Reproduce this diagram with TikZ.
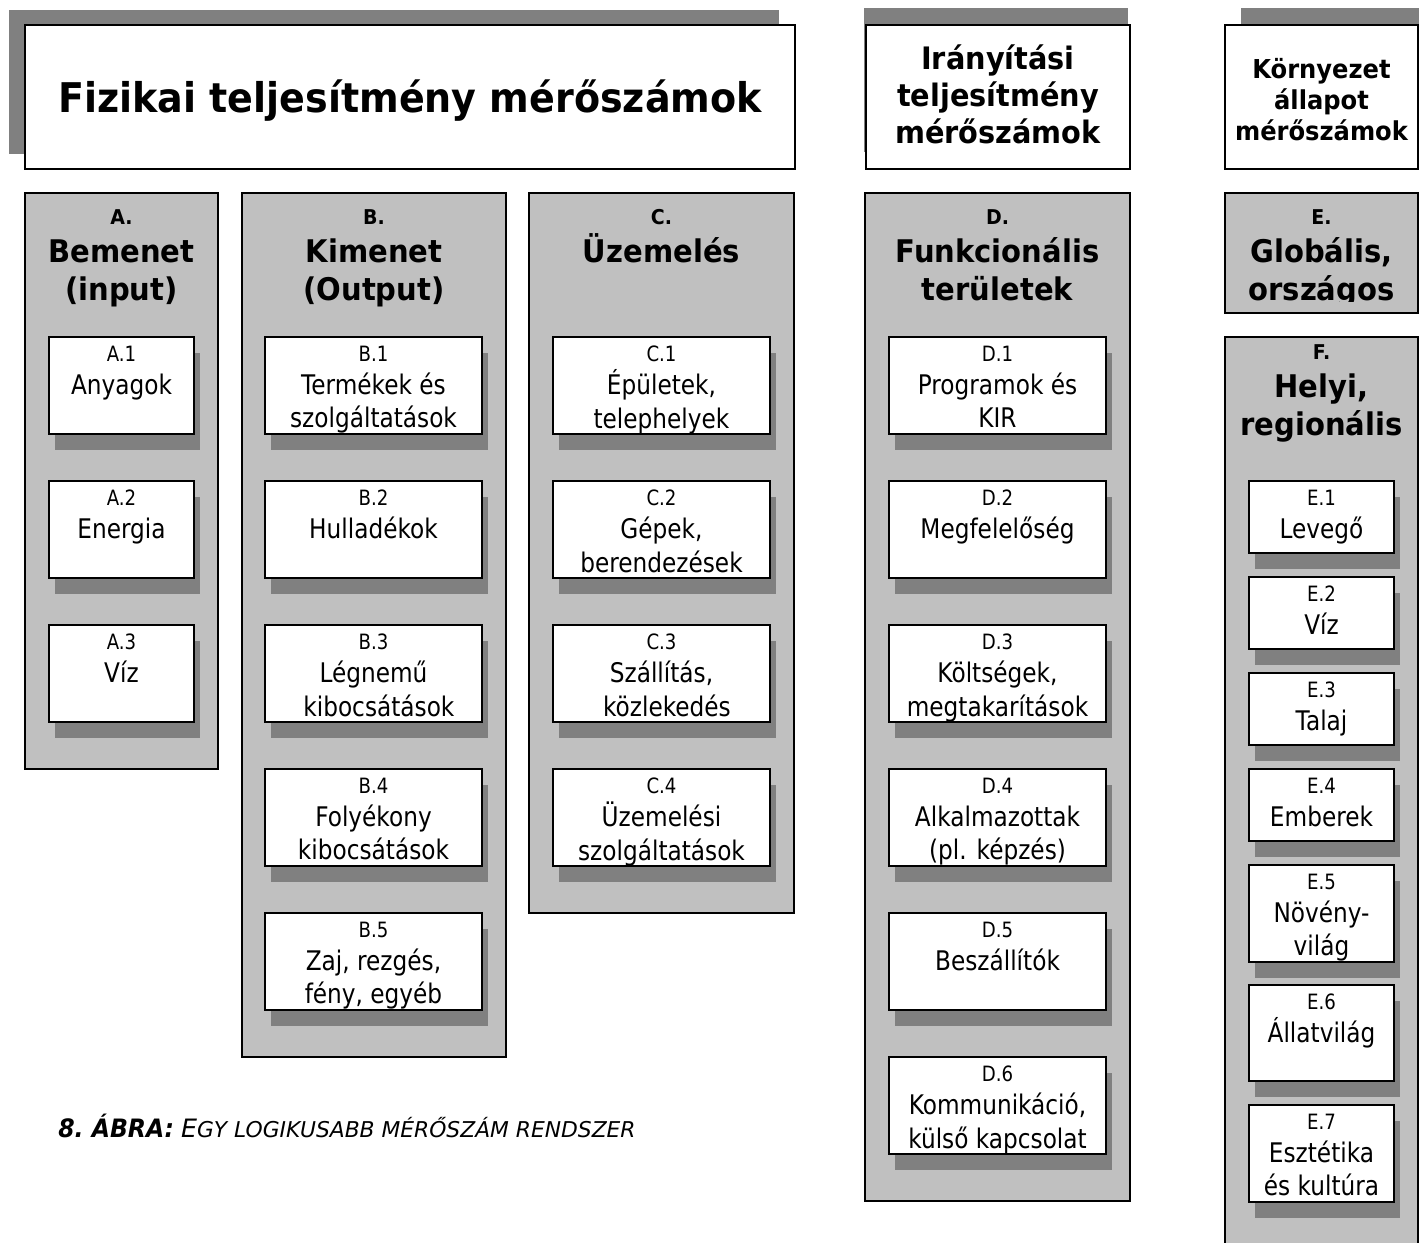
\documentclass[tikz,border=0pt]{standalone}
\usepackage{fontspec}
\setmainfont{DejaVu Sans}[
  UprightFeatures={FakeStretch=0.86},
  BoldFeatures={FakeStretch=0.93},
  BoldItalicFeatures={FakeStretch=0.93}]
\usetikzlibrary{shadows, fit, positioning}
\definecolor{panelgray}{HTML}{C0C0C0}
\definecolor{shadowgray}{HTML}{808080}
\newcommand\colletter[1]{{\fontsize{14.5}{27}\selectfont #1}}
\newcommand\itemlabel[1]{{\fontsize{15}{23.5}\selectfont #1}}
\newcommand\capsmall{\fontsize{15.5}{22}\selectfont}
\tikzset{
  headbox/.style={draw, line width=1.2pt, fill=white, inner sep=0pt},
  headshadow/.style 2 args={drop shadow={shadow xshift=#1, shadow yshift=#2, fill=shadowgray, opacity=1}},
  headtext/.style={align=center, inner sep=0pt},
  panel/.style={draw, line width=1.2pt, fill=panelgray, inner sep=0pt},
  colhead/.style={font=\bfseries\fontsize{22.2}{27}\selectfont, align=center, inner sep=0pt},
  itembox/.style={draw, line width=1.2pt, fill=white, inner sep=0pt,
    drop shadow={shadow xshift=4.3pt, shadow yshift=-11.4pt, fill=shadowgray, opacity=1}},
  itemtext/.style={font=\fontsize{19.2}{23.5}\selectfont, align=center, inner sep=0pt},
  figcaption/.style={font=\fontsize{18}{22}\selectfont, inner sep=0pt}
}

\begin{document}
\begin{tikzpicture}[x=0.025cm, y=-0.025cm]
        \useasboundingbox (0,0) rectangle (1419,1242);

        % headers
        \node[headbox, headshadow={-11.4pt}{10.7pt}, fit={(25,25) (795,169)}] (h1) {};
        \node[headtext, anchor=base, font=\bfseries\fontsize{29.1}{36}\selectfont] (h1t) at (410,112)
            {Fizikai teljesítmény mérőszámok};
        \node[headbox, headshadow={-1.4pt}{12pt}, fit={(866,25) (1130,169)}] (h2) {};
        \node[headtext, yshift=2pt, font=\bfseries\fontsize{22}{26.3}\selectfont] (h2t) at (h2.center)
            {Irányítási\\teljesítmény\\mérőszámok};
        \node[headbox, headshadow={11.4pt}{12pt}, fit={(1225,25) (1418,169)}] (h3) {};
        \node[headtext, yshift=-2pt, font=\bfseries\fontsize{18.5}{22}\selectfont] (h3t) at (h3.center)
            {Környezet\\állapot\\mérőszámok};

        % A. Bemenet
        \node[panel, fit={(25,193) (218,769)}] (pa) {};
        \node[colhead, below=12pt of pa.north] (pat) {\colletter{A.}\\Bemenet\\(input)};
        \node[itembox, fit={(49,337) (194,434)}] (a1) {};
        \node[itemtext, below=7pt of a1.north] (a1t) {\itemlabel{A.1}\\Anyagok};
        \node[itembox, fit={(49,481) (194,578)}] (a2) {};
        \node[itemtext, below=7pt of a2.north] (a2t) {\itemlabel{A.2}\\Energia};
        \node[itembox, fit={(49,625) (194,722)}] (a3) {};
        \node[itemtext, below=7pt of a3.north] (a3t) {\itemlabel{A.3}\\Víz};

        % B. Kimenet
        \node[panel, fit={(242,193) (506,1057)}] (pb) {};
        \node[colhead, below=12pt of pb.north] (pbt) {\colletter{B.}\\Kimenet\\(Output)};
        \node[itembox, fit={(265,337) (482,434)}] (b1) {};
        \node[itemtext, below=7pt of b1.north] (b1t) {\itemlabel{B.1}\\Termékek és\\szolgáltatások};
        \node[itembox, fit={(265,481) (482,578)}] (b2) {};
        \node[itemtext, below=7pt of b2.north] (b2t) {\itemlabel{B.2}\\Hulladékok};
        \node[itembox, fit={(265,625) (482,722)}] (b3) {};
        \node[itemtext, below=7pt of b3.north] (b3t) {\itemlabel{B.3}\\Légnemű\\\hspace*{0.4em}kibocsátások};
        \node[itembox, fit={(265,769) (482,866)}] (b4) {};
        \node[itemtext, below=7pt of b4.north] (b4t) {\itemlabel{B.4}\\Folyékony\\kibocsátások};
        \node[itembox, fit={(265,913) (482,1010)}] (b5) {};
        \node[itemtext, below=7pt of b5.north] (b5t) {\itemlabel{B.5}\\Zaj, rezgés,\\fény, egyéb};

        % C. Uzemeles
        \node[panel, fit={(529,193) (794,913)}] (pc) {};
        \node[colhead, below=12pt of pc.north] (pct) {\colletter{C.}\\Üzemelés};
        \node[itembox, fit={(553,337) (770,434)}] (c1) {};
        \node[itemtext, below=7pt of c1.north] (c1t) {\itemlabel{C.1}\\Épületek,\\telephelyek};
        \node[itembox, fit={(553,481) (770,578)}] (c2) {};
        \node[itemtext, below=7pt of c2.north] (c2t) {\itemlabel{C.2}\\Gépek,\\berendezések};
        \node[itembox, fit={(553,625) (770,722)}] (c3) {};
        \node[itemtext, below=7pt of c3.north] (c3t) {\itemlabel{C.3}\\Szállítás,\\\hspace*{0.4em}közlekedés};
        \node[itembox, fit={(553,769) (770,866)}] (c4) {};
        \node[itemtext, below=7pt of c4.north] (c4t) {\itemlabel{C.4}\\Üzemelési\\szolgáltatások};

        % D. Funkcionalis teruletek
        \node[panel, fit={(865,193) (1130,1201)}] (pd) {};
        \node[colhead, below=12pt of pd.north] (pdt) {\colletter{D.}\\Funkcionális\\területek};
        \node[itembox, fit={(889,337) (1106,434)}] (d1) {};
        \node[itemtext, below=7pt of d1.north] (d1t) {\itemlabel{D.1}\\Programok és\\KIR};
        \node[itembox, fit={(889,481) (1106,578)}] (d2) {};
        \node[itemtext, below=7pt of d2.north] (d2t) {\itemlabel{D.2}\\Megfelelőség};
        \node[itembox, fit={(889,625) (1106,722)}] (d3) {};
        \node[itemtext, below=7pt of d3.north] (d3t) {\itemlabel{D.3}\\Költségek,\\megtakarítások};
        \node[itembox, fit={(889,769) (1106,866)}] (d4) {};
        \node[itemtext, below=7pt of d4.north] (d4t) {\itemlabel{D.4}\\Alkalmazottak\\(pl. képzés)};
        \node[itembox, fit={(889,913) (1106,1010)}] (d5) {};
        \node[itemtext, below=7pt of d5.north] (d5t) {\itemlabel{D.5}\\Beszállítók};
        \node[itembox, fit={(889,1057) (1106,1154)}] (d6) {};
        \node[itemtext, below=7pt of d6.north] (d6t) {\itemlabel{D.6}\\Kommunikáció,\\külső kapcsolat};

        % E. Globalis (text cut off by the box)
        \node[panel, fit={(1225,193) (1418,313)}] (pe) {};
        \begin{scope}
            \clip (1225,193) rectangle (1418,301);
            \node[colhead, below=12pt of pe.north] (pet) {\colletter{E.}\\Globális,\\országos};
        \end{scope}

        % F. Helyi, regionalis
        \node[panel, fit={(1225,337) (1418,1262)}] (pf) {};
        \node[colhead, below=6pt of pf.north] (pft) {\colletter{F.}\\Helyi,\\regionális};
        \node[itembox, fit={(1249,481) (1394,553)}] (f1) {};
        \node[itemtext, below=7pt of f1.north] (f1t) {\itemlabel{E.1}\\Levegő};
        \node[itembox, fit={(1249,577) (1394,649)}] (f2) {};
        \node[itemtext, below=7pt of f2.north] (f2t) {\itemlabel{E.2}\\Víz};
        \node[itembox, fit={(1249,673) (1394,745)}] (f3) {};
        \node[itemtext, below=7pt of f3.north] (f3t) {\itemlabel{E.3}\\Talaj};
        \node[itembox, fit={(1249,769) (1394,841)}] (f4) {};
        \node[itemtext, below=7pt of f4.north] (f4t) {\itemlabel{E.4}\\Emberek};
        \node[itembox, fit={(1249,865) (1394,962)}] (f5) {};
        \node[itemtext, below=7pt of f5.north] (f5t) {\itemlabel{E.5}\\Növény-\\világ};
        \node[itembox, fit={(1249,985) (1394,1081)}] (f6) {};
        \node[itemtext, below=7pt of f6.north] (f6t) {\itemlabel{E.6}\\Állatvilág};
        \node[itembox, fit={(1249,1105) (1394,1202)}] (f7) {};
        \node[itemtext, below=7pt of f7.north] (f7t) {\itemlabel{E.7}\\Esztétika\\és kultúra};

        % caption
        \node[figcaption, anchor=base west] (cap) at (58,1137)
            {\textbf{\textit{8.\ ÁBRA:}} \textit{E\capsmall GY LOGIKUSABB MÉRŐSZÁM RENDSZER}};
\end{tikzpicture}
\end{document}
